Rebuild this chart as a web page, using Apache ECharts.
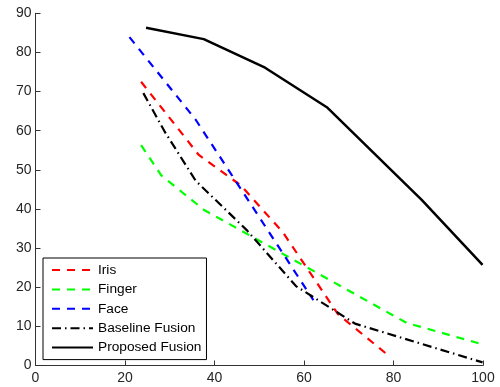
<!DOCTYPE html>
<html>
<head>
<meta charset="utf-8">
<script src="https://cdn.jsdelivr.net/npm/echarts@6/dist/echarts.min.js"></script>
<style>html,body{margin:0;padding:0;background:#fff}#c{width:500px;height:387px}</style>
</head>
<body>
<div id="c"></div>
<script>
var seriesNames = ['Iris', 'Finger', 'Face', 'Baseline Fusion', 'Proposed Fusion'];
var irisX = [23.6, 36.5, 45.9, 55.3, 67.6, 78.5];
var irisY = [72.5, 53.8, 46.0, 34.0, 13.1, 2.9];
var fingerX = [23.6, 28.1, 37.6, 82.9, 99.9];
var fingerY = [56.3, 48.6, 39.8, 10.9, 5.4];
var faceX = [21.0, 35.8, 62.1];
var faceY = [83.9, 62.8, 16.7];
var baselineX = [24.1, 28.8, 35.8, 47.2, 58.2, 71.4, 99.9];
var baselineY = [69.6, 59.9, 47.2, 34.6, 20.3, 10.7, 0.8];
var proposedX = [24.7, 37.6, 51.3, 65.1, 86.3, 99.9];
var proposedY = [86.3, 83.4, 76.1, 66.0, 42.3, 25.7];
var xTicks = [0, 20, 40, 60, 80, 100];
var yTicks = [0, 10, 20, 30, 40, 50, 60, 70, 80, 90];

function pairs(xs, ys) { return xs.map(function (x, i) { return [x, ys[i]]; }); }

var styles = [
  { color: '#ff0000', type: [8, 7], width: 2.2 },
  { color: '#00ff00', type: [8, 7], width: 2.2 },
  { color: '#0000ff', type: [8, 7], width: 2.2 },
  { color: '#000000', type: [9, 4, 1.5, 4], width: 2.2 },
  { color: '#000000', type: 'solid', width: 2.5 }
];
var datas = [pairs(irisX, irisY), pairs(fingerX, fingerY), pairs(faceX, faceY), pairs(baselineX, baselineY), pairs(proposedX, proposedY)];

var chart = echarts.init(document.getElementById('c'), null, { renderer: 'canvas' });
var axisCommon = {
  type: 'value',
  splitLine: { show: false },
  axisLine: { show: true, lineStyle: { color: '#333', width: 1 } },
  axisTick: { show: true, inside: true, length: 5, lineStyle: { color: '#333' } },
  axisLabel: { color: '#262626', fontSize: 14, fontFamily: 'Liberation Sans, Arial, sans-serif' }
};
chart.setOption({
  animation: false,
  backgroundColor: '#fff',
  grid: { left: 35.5, right: 17, top: 13.3, bottom: 21.5, containLabel: false },
  xAxis: Object.assign({}, axisCommon, {
    min: xTicks[0], max: xTicks[xTicks.length - 1], interval: 20,
    axisLabel: Object.assign({}, axisCommon.axisLabel, { margin: 6, showMaxLabel: true, showMinLabel: true })
  }),
  yAxis: Object.assign({}, axisCommon, {
    min: yTicks[0], max: yTicks[yTicks.length - 1], interval: 10,
    axisLabel: Object.assign({}, axisCommon.axisLabel, { margin: 4 })
  }),
  legend: {
    orient: 'vertical',
    left: 43, top: 258,
    padding: [5, 5, 5, 8],
    itemGap: 5.4,
    itemWidth: 41, itemHeight: 14,
    borderColor: '#000', borderWidth: 1,
    backgroundColor: '#fff',
    itemStyle: { opacity: 0 },
    textStyle: { color: '#000', fontSize: 13.7, fontFamily: 'Liberation Sans, Arial, sans-serif' },
    data: seriesNames
  },
  series: seriesNames.map(function (n, i) {
    return {
      name: n, type: 'line', data: datas[i], symbol: 'none', z: 2 + (i === 4 ? 1 : 0),
      lineStyle: styles[i], itemStyle: { color: styles[i].color }
    };
  })
});
</script>
</body>
</html>
